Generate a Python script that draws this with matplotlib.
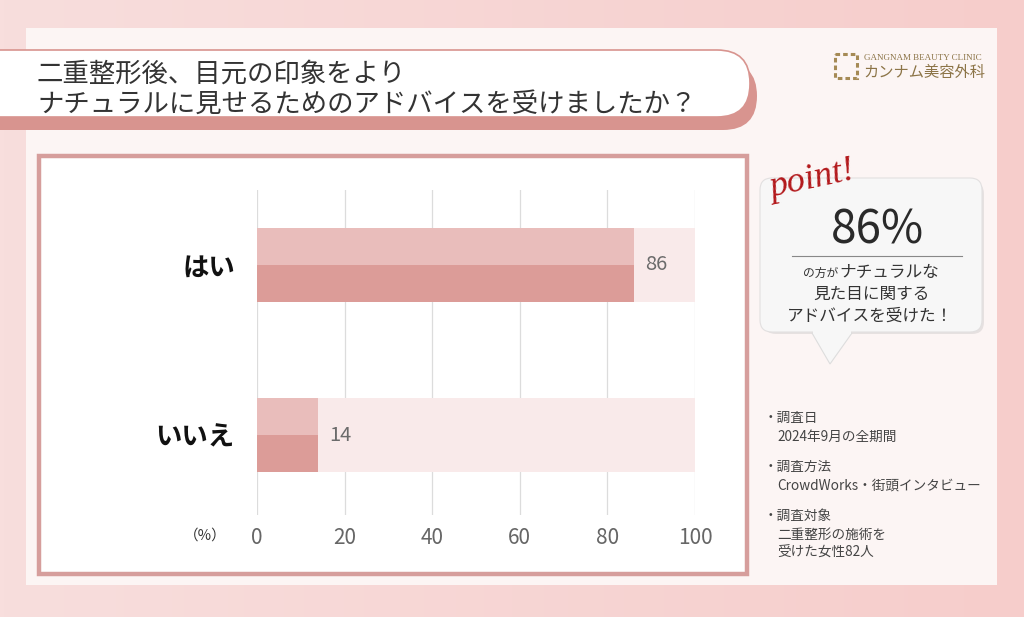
import numpy as np
import matplotlib.pyplot as plt
from matplotlib.patches import FancyBboxPatch, Rectangle, Polygon

plt.rcParams['font.family'] = ['Noto Sans CJK JP', 'DejaVu Sans']

# data
categories = ['いいえ', 'はい']
values = [14, 86]
x_ticks = [0, 20, 40, 60, 80, 100]

title_lines = ['二重整形後、目元の印象をより', 'ナチュラルに見せるためのアドバイスを受けましたか？']
point_value = '86%'
notes = [('・調査日', ['2024年9月の全期間']),
         ('・調査方法', ['CrowdWorks・街頭インタビュー']),
         ('・調査対象', ['二重整形の施術を', '受けた女性82人'])]

W, H = 1024, 617
fig = plt.figure(figsize=(W / 100, H / 100), dpi=100)

# background layer in pixel coords (y down)
bg = fig.add_axes([0, 0, 1, 1])
bg.set_xlim(0, W)
bg.set_ylim(H, 0)
bg.axis('off')

# pink outer background with a soft gradient
grad = np.linspace(0, 1, 256)
img = np.zeros((2, 256, 3))
c1 = np.array([248, 222, 221]) / 255
c2 = np.array([246, 205, 203]) / 255
for i in range(3):
    img[:, :, i] = c1[i] + (c2[i] - c1[i]) * grad
bg.imshow(img, extent=[0, W, H, 0], aspect='auto', zorder=0)

# inner pale panel
bg.add_patch(Rectangle((26, 28), 971, 557, facecolor='#fcf5f4', edgecolor='none', zorder=1))

# title pill with shadow
bg.add_patch(FancyBboxPatch((-40, 62), 797, 68, boxstyle='round,pad=0,rounding_size=34',
                            facecolor='#d8948f', edgecolor='none', zorder=2))
bg.add_patch(FancyBboxPatch((-40, 50), 790, 67, boxstyle='round,pad=0,rounding_size=33',
                            facecolor='white', edgecolor='#d8948f', linewidth=1.2, zorder=3))
bg.text(37, 74, title_lines[0], fontsize=19, color='#333333', va='center', ha='left', zorder=4)
bg.text(37, 104, title_lines[1], fontsize=19, color='#333333', va='center', ha='left', zorder=4)

# logo
bg.add_patch(Rectangle((835, 54), 22, 24, facecolor='none', edgecolor='#a58a55', linewidth=2.2,
                       linestyle=(0, (1.5, 1)), zorder=4))
bg.text(864, 58, 'GANGNAM BEAUTY CLINIC', fontsize=6.5, family='Liberation Serif',
        color='#8c7447', va='center', ha='left', zorder=4)
bg.text(863, 73, 'カンナム美容外科', fontsize=11, color='#8c7447', va='center', ha='left', zorder=4)

# chart panel
bg.add_patch(Rectangle((39, 156), 708, 418, facecolor='white', edgecolor='#d69e9c',
                       linewidth=3.2, zorder=2))

# speech bubble
bg.add_patch(FancyBboxPatch((764, 182), 220, 152, boxstyle='round,pad=0,rounding_size=12',
                            facecolor='#d8d4d4', edgecolor='none', zorder=2, alpha=0.6))
bg.add_patch(Polygon([[812, 333], [852, 333], [830, 364]], closed=True,
                     facecolor='#f7f7f7', edgecolor='#dddddd', linewidth=0.8, zorder=3))
bg.add_patch(FancyBboxPatch((760, 178), 222, 154, boxstyle='round,pad=0,rounding_size=12',
                            facecolor='#f7f7f7', edgecolor='#e2e0e0', linewidth=0.8, zorder=3))
bg.add_patch(Rectangle((813, 329), 38, 5, facecolor='#f7f7f7', edgecolor='none', zorder=4))
bg.text(812, 180, 'point!', fontsize=26, family='Liberation Serif', style='italic',
        color='#b3191c', rotation=12, va='center', ha='center', zorder=5)
bg.text(877, 230, point_value, fontsize=33, color='#2a2a2a', va='center', ha='center', zorder=5)
bg.plot([792, 962], [256, 256], color='#888888', linewidth=0.8, zorder=5)
bg.text(838, 273, 'の方が', fontsize=8.5, color='#333333', va='center', ha='right', zorder=5)
bg.text(839, 272, 'ナチュラルな', fontsize=12, color='#333333', va='center', ha='left', zorder=5)
bg.text(872, 294, '見た目に関する', fontsize=12, color='#333333', va='center', ha='center', zorder=5)
bg.text(870, 316, 'アドバイスを受けた！', fontsize=12, color='#333333', va='center', ha='center', zorder=5)

# survey notes
y = 418
for head, body in notes:
    bg.text(764, y, head, fontsize=9.8, color='#444444', va='center', ha='left', zorder=5)
    for j, line in enumerate(body):
        bg.text(777, y + 19 + 18 * j, line, fontsize=9.8, color='#444444',
                va='center', ha='left', zorder=5)
    y += 49

# chart axes
x0, x1 = 257, 695
top, bottom = 190, 515
ax = fig.add_axes([x0 / W, 1 - bottom / H, (x1 - x0) / W, (bottom - top) / H])
ax.patch.set_alpha(0)
pos = np.arange(len(categories))
ax.set_xlim(0, 100)
ax.set_ylim(-0.47, 1.44)
bar_h = 0.435

ax.barh(pos, [100] * len(pos), height=bar_h, color='#f9eaea', zorder=1)
ax.barh(pos, values, height=bar_h, color='#dc9c98', zorder=2)
ax.barh(pos + bar_h / 4, values, height=bar_h / 2, color='#e9bdbb', zorder=3)
for p, v in zip(pos, values):
    ax.text(v + 2.5, p, str(v), fontsize=14.5, color='#6b6b6b', va='center', ha='left', zorder=4)

for t in x_ticks:
    ax.axvline(t, color='#dcdcdc', linewidth=0.9, zorder=0)

ax.set_xticks(x_ticks)
ax.set_xticklabels([str(t) for t in x_ticks], fontsize=15, color='#666666')
ax.set_yticks(pos)
ax.set_yticklabels(categories, fontsize=19, fontweight='bold', color='#111111')
ax.tick_params(axis='both', length=0)
ax.tick_params(axis='x', pad=9)
ax.tick_params(axis='y', pad=16)
for s in ax.spines.values():
    s.set_visible(False)

bg.text(205, 536, '（%）', fontsize=10.5, color='#333333', va='center', ha='center', zorder=5)

fig.savefig('out.png', dpi=100)
